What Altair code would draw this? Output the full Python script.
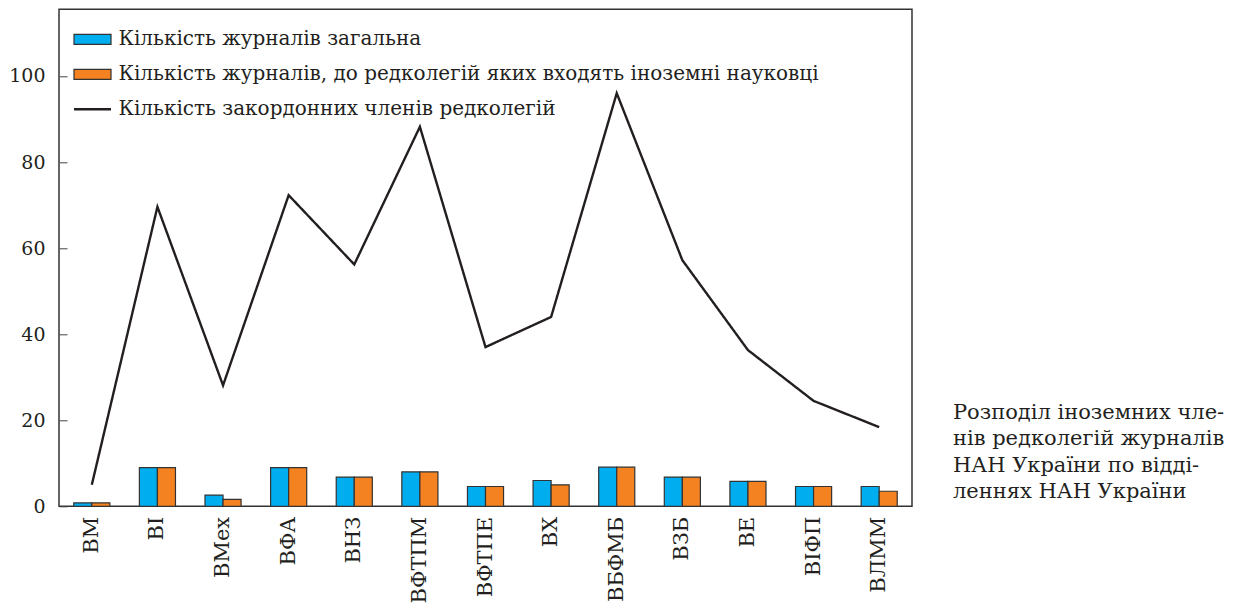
import altair as alt
import pandas as pd

categories = ["ВМ", "ВІ", "ВМех", "ВФА", "ВНЗ", "ВФТПМ", "ВФТПЕ", "ВХ",
              "ВБФМБ", "ВЗБ", "ВЕ", "ВІФП", "ВЛММ"]
total_journals = [0.8, 9, 2.6, 9, 6.8, 8, 4.6, 6, 9.1, 6.8, 5.8, 4.6, 4.6]
foreign_board_journals = [0.8, 9, 1.6, 9, 6.8, 8, 4.6, 5, 9.1, 6.8, 5.8, 4.6, 3.5]
foreign_members = [5, 69.6, 28.1, 72.3, 56.2, 88.2, 37.0, 44.0, 96.0, 57.2, 36.3, 24.5, 18.4]
y_ticks = [0, 20, 40, 60, 80, 100]

S1 = "Кількість журналів загальна"
S2 = "Кількість журналів, до редколегій яких входять іноземні науковці"
S3 = "Кількість закордонних членів редколегій"

caption_lines = ["Розподіл іноземних чле-", "нів редколегій журналів",
                 "НАН України по відді-", "леннях НАН України"]

n = len(categories)
bars_df = pd.DataFrame({
    "cat": categories * 2,
    "series": [S1] * n + [S2] * n,
    "value": total_journals + foreign_board_journals,
})
line_df = pd.DataFrame({"cat": categories, "value": foreign_members, "series": [S3] * n})

FONT = "DejaVu Serif, Liberation Serif, serif"
TXT = "#231F20"

xscale = alt.Scale(domain=categories, paddingInner=0.45, paddingOuter=0.225)
yscale = alt.Scale(domain=[0, 115.5], nice=False, zero=True)
color_scale = alt.Scale(domain=[S1, S2], range=["#00AEEF", "#F58220"])

common_legend = dict(
    title=None, orient="none", labelFont=FONT, labelFontSize=20,
    labelColor=TXT, labelLimit=0, symbolSize=100, symbolOpacity=1,
    labelOffset=16, rowPadding=15,
)
bar_legend = alt.Legend(
    legendX=23.5, legendY=20, symbolType="M-3.7,-1H3.7V1H-3.7Z",
    symbolStrokeColor="#333", symbolStrokeWidth=1.2, **common_legend,
)
line_legend = alt.Legend(
    legendX=23.5, legendY=90, symbolType="M-3.7,0H3.7",
    symbolStrokeColor=TXT, symbolStrokeWidth=2.4, **common_legend,
)

x_axis = alt.Axis(title=None, ticks=False, domain=False, labelAngle=-90,
                  labelFont=FONT, labelFontSize=21, labelColor=TXT,
                  labelPadding=10, labelAlign="right", labelBaseline="middle")
y_axis = alt.Axis(title=None, values=y_ticks, offset=-8, tickSize=8, domain=False,
                  grid=False, labelFont=FONT, labelFontSize=19, labelColor=TXT,
                  labelPadding=14, tickColor="#444", tickWidth=1)

bars = alt.Chart(bars_df).mark_bar(stroke="#333", strokeWidth=1.2).encode(
    x=alt.X("cat:N", scale=xscale, sort=categories, axis=x_axis),
    xOffset=alt.XOffset("series:N", sort=[S1, S2]),
    y=alt.Y("value:Q", scale=yscale, axis=y_axis),
    color=alt.Color("series:N", scale=color_scale, legend=bar_legend),
)

line = alt.Chart(line_df).mark_line(strokeWidth=2.4, strokeJoin="miter", color=TXT).encode(
    x=alt.X("cat:N", scale=xscale, sort=categories),
    y=alt.Y("value:Q", scale=yscale),
    strokeDash=alt.StrokeDash("series:N", scale=alt.Scale(domain=[S3], range=[[1, 0]]),
                              legend=line_legend),
)

caption = alt.Chart(pd.DataFrame({"a": [0]})).mark_text(
    align="left", baseline="alphabetic", font=FONT, fontSize=21,
    lineHeight=26.3, color=TXT,
).encode(x=alt.value(894), y=alt.value(409.7), text=alt.value(caption_lines))

chart = alt.layer(bars, line, caption).properties(
    width=853, height=497,
    autosize=alt.AutoSizeParams(type="none"),
    padding={"left": 51, "top": 1.3, "right": 317, "bottom": 99},
).configure_view(stroke="#333", strokeWidth=1.5)

chart.save("out.html", embed_options={"renderer": "svg", "actions": False})
